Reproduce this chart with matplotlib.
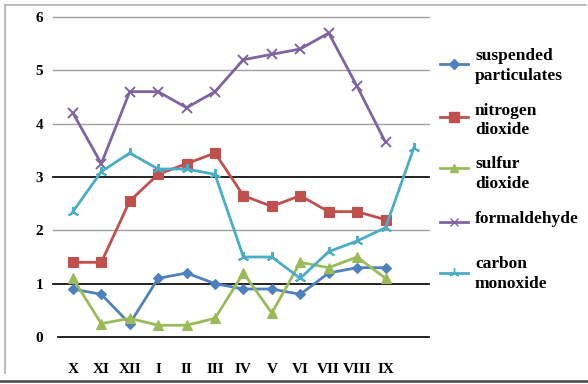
import matplotlib
matplotlib.use("Agg")
import matplotlib.pyplot as plt
from matplotlib.lines import Line2D

months = ["X", "XI", "XII", "I", "II", "III", "IV", "V", "VI", "VII", "VIII", "IX"]
suspended = [0.9, 0.8, 0.25, 1.1, 1.2, 1.0, 0.9, 0.9, 0.8, 1.2, 1.3, 1.3]
nitrogen = [1.4, 1.4, 2.55, 3.05, 3.25, 3.45, 2.65, 2.45, 2.65, 2.35, 2.35, 2.2]
sulfur = [1.1, 0.25, 0.35, 0.22, 0.22, 0.35, 1.2, 0.45, 1.4, 1.3, 1.5, 1.1]
formaldehyde = [4.2, 3.25, 4.6, 4.6, 4.3, 4.6, 5.2, 5.3, 5.4, 5.7, 4.7, 3.65]
carbon = [2.35, 3.1, 3.45, 3.15, 3.15, 3.05, 1.5, 1.5, 1.1, 1.6, 1.8, 2.05, 3.55]

names = ["suspended\nparticulates", "nitrogen\ndioxide", "sulfur\ndioxide",
         "formaldehyde", "carbon\nmonoxide"]
series = [suspended, nitrogen, sulfur, formaldehyde, carbon]
colors = ["#4F81BD", "#C0504D", "#9BBB59", "#8064A2", "#4BACC6"]
markers = ["D", "s", "^", "x", (3, 2, 0)]
msizes = [5.5, 7.5, 7, 7, 8]

W, H = 588, 384
fig = plt.figure(figsize=(W / 100, H / 100), dpi=100)
fig.patch.set_facecolor("white")

def px(x0, y0, x1, y1):
    return [x0 / W, 1 - y1 / H, (x1 - x0) / W, (y1 - y0) / H]

ax = fig.add_axes(px(53, 17, 429, 337))
ax.set_xlim(-0.7, 12.53)
ax.set_ylim(0, 6)
for s in ax.spines.values():
    s.set_visible(False)

grid_colors = {0: "#111111", 1: "#111111", 2: "#a0a0a0", 3: "#111111",
               4: "#a0a0a0", 5: "#a0a0a0", 6: "#a0a0a0"}
for v, c in grid_colors.items():
    x0 = 0.014 if v == 0 else 0.0
    ax.axhline(v, xmin=x0, color=c, lw=1.3 if c == "#111111" else 1.0, zorder=1, clip_on=False)

for vals, col, mk, ms in zip(series, colors, markers, msizes):
    xs = list(range(len(vals)))
    ax.plot(xs, vals, color=col, lw=2, marker=mk, markersize=ms,
            markeredgewidth=1.4 if mk == "x" or isinstance(mk, tuple) else 0.8,
            markerfacecolor=col, markeredgecolor=col, zorder=3, clip_on=False)

font = dict(family="Liberation Serif", weight="bold")
ax.set_xticks(range(len(months)))
ax.set_xticklabels(months, fontsize=11, **font)
ax.set_yticks(range(7))
ax.set_yticklabels([str(i) for i in range(7)], fontsize=11, **font)
ax.tick_params(axis="x", length=0, pad=19)
ax.tick_params(axis="y", length=0, pad=7)

# legend (manual placement)
handle_y = [64, 117, 168, 222, 273]
text_y = [66, 120.5, 174, 219, 274]
for hy, ty, name, col, mk, ms in zip(handle_y, text_y, names, colors, markers, msizes):
    fig.add_artist(Line2D([440 / W, 468 / W], [1 - hy / H, 1 - hy / H], color=col, lw=2,
                          transform=fig.transFigure))
    fig.add_artist(Line2D([454 / W], [1 - hy / H], color=col, marker=mk,
                          markersize=ms * 0.9, markerfacecolor=col, markeredgecolor=col,
                          transform=fig.transFigure))
    fig.text(475 / W, 1 - ty / H, name, fontsize=12.5, va="center", ha="left",
             linespacing=1.3, color="black", **font)

# outer frame
fig.add_artist(Line2D([5 / W, 5 / W], [1 - 5 / H, 1 - 373 / H], color="#b0b0b0", lw=1.2,
                      transform=fig.transFigure))
fig.add_artist(Line2D([5 / W, 586 / W], [1 - 5 / H, 1 - 5 / H], color="#b0b0b0", lw=1.2,
                      transform=fig.transFigure))
fig.add_artist(Line2D([0, 1], [1 - 381 / H, 1 - 381 / H], color="#444444", lw=1.8,
                      transform=fig.transFigure))

fig.savefig("out.png", dpi=100, facecolor="white")
